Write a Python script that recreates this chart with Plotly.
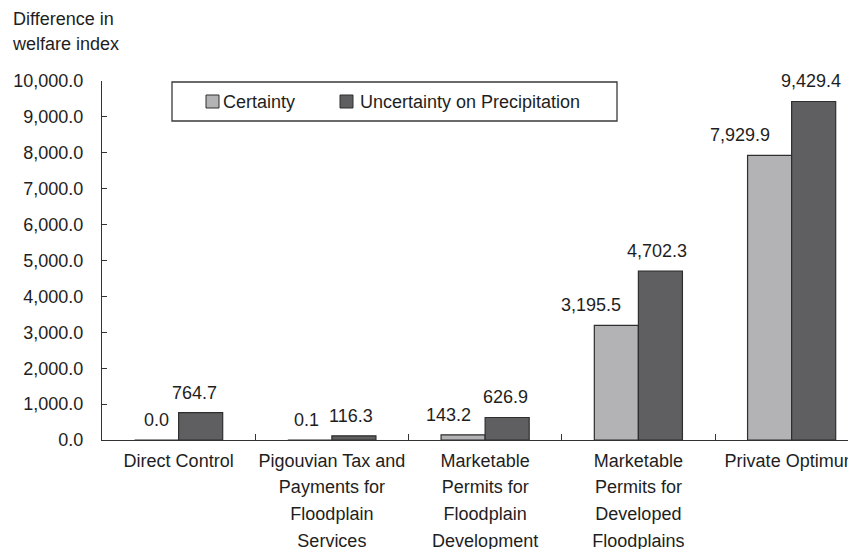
import plotly.graph_objects as go

# data
categories = ["Direct Control", "Pigouvian Tax", "Floodplain Development",
              "Developed Floodplains", "Private Optimum"]
tick_labels = ["Direct Control",
               "Pigouvian Tax and<br>Payments for<br>Floodplain<br>Services",
               "Marketable<br>Permits for<br>Floodplain<br>Development",
               "Marketable<br>Permits for<br>Developed<br>Floodplains",
               "Private Optimum"]
certainty = [0.0, 0.1, 143.2, 3195.5, 7929.9]
uncertainty = [764.7, 116.3, 626.9, 4702.3, 9429.4]
series_names = ["Certainty", "Uncertainty on Precipitation"]

# styling
FONT = "Liberation Sans, Arial, Helvetica, sans-serif"
TXT = "#1e1e1e"
COLORS = ["#b3b3b6", "#5f5f61"]
EDGE = "#2e2e2e"
W, H = 856, 549
OFF = 8  # page body margin in the browser
ML, MR, MT, MB = 94, 8, 73, 117
PW, PH = W - ML - MR, H - MT - MB

# small horizontal nudges of the value labels (px), as in the original
nudge_cert = [0, -3, -15, -25, -30]
nudge_unc = [-6, -2.5, -2, -3, -3]


def px(x):
    # screenshot x -> paper fraction
    return (x - OFF - ML) / PW


def py(y):
    # screenshot y -> paper fraction
    return (H - MB - (y - OFF)) / PH


def span(t, size=18):
    return "<br>".join(f"<span style='font-size:{size}px'>{s}</span>" for s in t.split("<br>"))


fig = go.Figure()
for name, vals, col in zip(series_names, [certainty, uncertainty], COLORS):
    fig.add_trace(go.Bar(
        x=categories, y=vals, name=name,
        marker=dict(color=col, line=dict(color=EDGE, width=1.2)),
        showlegend=False, hoverinfo="skip"
    ))

# value labels above the bars
annotations = []
for vals, side, nudges in [(certainty, -22, nudge_cert), (uncertainty, 22, nudge_unc)]:
    for c, v, n in zip(categories, vals, nudges):
        annotations.append(dict(
            x=c, y=max(v, 0), xref="x", yref="y", text=f"{v:,.1f}",
            showarrow=False, xanchor="center", yanchor="bottom",
            xshift=side + n, yshift=8, font=dict(size=18, color=TXT, family=FONT)
        ))

# y axis title at the top left
annotations.append(dict(
    x=px(10), y=py(6.5), xref="paper", yref="paper", xanchor="left", yanchor="top",
    align="left", showarrow=False, text=span("Difference in<br>welfare index"),
    font=dict(size=19, color=TXT, family=FONT)
))

# legend drawn by hand (boxed, horizontal)
shapes = [dict(type="rect", xref="paper", yref="paper",
               x0=px(172), x1=px(617), y0=py(121), y1=py(82),
               line=dict(color="#3a3a3a", width=1.3), fillcolor="white")]
for name, col, sx, tx in zip(series_names, COLORS, [206, 340], [221, 358]):
    shapes.append(dict(type="rect", xref="paper", yref="paper",
                       x0=px(sx), x1=px(sx + 13), y0=py(108), y1=py(95),
                       line=dict(color=EDGE, width=1), fillcolor=col))
    annotations.append(dict(x=px(tx), y=py(101.5), xref="paper", yref="paper",
                            xanchor="left", yanchor="middle", showarrow=False,
                            text=name, font=dict(size=18, color=TXT, family=FONT)))

fig.update_layout(
    width=W, height=H, autosize=False,
    margin=dict(l=ML, r=MR, t=MT, b=MB, pad=0),
    paper_bgcolor="white", plot_bgcolor="white",
    font=dict(family=FONT, size=18, color=TXT),
    barmode="group", bargap=0.425, bargroupgap=0,
    annotations=annotations, shapes=shapes,
)
fig.update_xaxes(
    type="category", range=[-0.5, 4.42], automargin=False, tickangle=0,
    tickvals=categories, ticktext=[span(t) for t in tick_labels],
    tickfont=dict(size=20.5, color=TXT, family=FONT),
    ticks="inside", tickson="boundaries", ticklen=6, tickcolor="#333", tickwidth=1.2,
    showline=True, linecolor="#333", linewidth=1.3,
    showgrid=False, zeroline=False, ticklabelstandoff=1,
)
fig.update_yaxes(
    range=[0, 10000], dtick=1000, tickformat=",.1f", automargin=False,
    tickfont=dict(size=18, color=TXT, family=FONT),
    ticks="inside", ticklen=5, tickcolor="#333", tickwidth=1.2,
    showline=True, linecolor="#333", linewidth=1.3,
    showgrid=False, zeroline=False, ticklabelstandoff=14,
)

fig.write_html("out.html")
